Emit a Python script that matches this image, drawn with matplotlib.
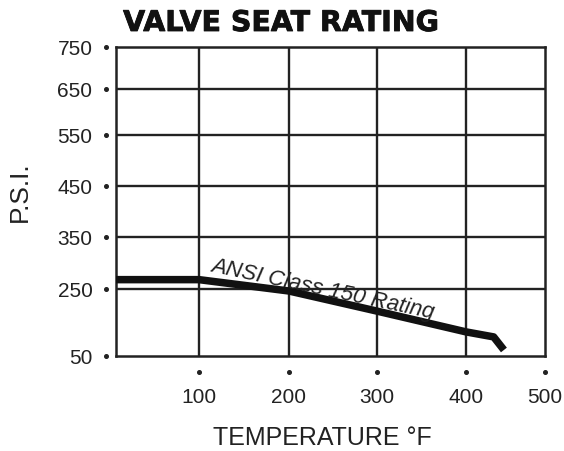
import numpy as np
import matplotlib
matplotlib.use("Agg")
import matplotlib.pyplot as plt
import matplotlib.patheffects as pe

plt.rcParams["font.family"] = ["Liberation Sans", "DejaVu Sans"]

# chart values
temp_f = [0, 100, 200, 300, 400, 435, 448]
rating_psi = [268, 268, 244, 184, 122, 107, 68]

x_ticks = [100, 200, 300, 400, 500]
y_ticks = [50, 250, 350, 450, 550, 650, 750]

# the printed axes are not evenly spaced, so map values through anchor points
x_anchor_val = [0, 100, 200, 300, 400, 500]
x_anchor_pos = [0, 83, 173, 261, 350, 429]
y_anchor_val = [50, 250, 350, 450, 550, 650, 750]
y_anchor_pos = [0, 67, 119, 170, 221, 267, 309]


def fwd_x(v):
    return np.interp(v, x_anchor_val, x_anchor_pos)

def inv_x(p):
    return np.interp(p, x_anchor_pos, x_anchor_val)

def fwd_y(v):
    return np.interp(v, y_anchor_val, y_anchor_pos)

def inv_y(p):
    return np.interp(p, y_anchor_pos, y_anchor_val)


W, H = 564, 452
fig = plt.figure(figsize=(W / 100, H / 100), dpi=100)
ax = fig.add_axes([116 / W, 1 - 357 / H, (545 - 116) / W, (357 - 48) / H])

ax.set_xscale("function", functions=(fwd_x, inv_x))
ax.set_yscale("function", functions=(fwd_y, inv_y))
ax.set_xlim(0, 500)
ax.set_ylim(50, 750)

# grid
for t in x_ticks[:-1]:
    ax.axvline(t, color="#222222", lw=1.7, zorder=1)
for p in y_ticks[1:-1]:
    ax.axhline(p, color="#222222", lw=1.7, zorder=1)
for s in ax.spines.values():
    s.set_linewidth(1.8)
    s.set_color("#222222")

# rating curve
ax.plot(temp_f, rating_psi, color="#111111", lw=5.4, solid_capstyle="butt",
        solid_joinstyle="round", zorder=3)
ax.text(112, 286, "ANSI Class 150 Rating", fontsize=16, style="italic",
        rotation=-12, rotation_mode="anchor", ha="left", va="baseline",
        color="#222222", zorder=4)

# ticks: labels plus small dots
ax.set_xticks(x_ticks)
ax.set_xticklabels([str(t) for t in x_ticks])
ax.set_yticks(y_ticks)
ax.set_yticklabels([str(p) for p in y_ticks])
ax.tick_params(axis="x", length=0, pad=22, labelsize=15, labelcolor="#222222")
ax.tick_params(axis="y", length=0, pad=17, labelsize=15, labelcolor="#222222")
ax.plot(x_ticks, [-0.052] * len(x_ticks), "o", ms=2.6, color="#222222",
        transform=ax.get_xaxis_transform(), clip_on=False)
ax.plot([-0.024] * len(y_ticks), y_ticks, "o", ms=2.6, color="#222222",
        transform=ax.get_yaxis_transform(), clip_on=False)

fig.text(281 / W, 1 - 24 / H, "VALVE SEAT RATING", fontsize=20.5,
         fontweight="bold", family="DejaVu Sans", ha="center", va="center",
         color="#111111",
         path_effects=[pe.withStroke(linewidth=0.6, foreground="#111111")])
fig.text(20 / W, 1 - 192 / H, "P.S.I.", fontsize=19, rotation=90,
         ha="center", va="center", color="#222222")
fig.text(322 / W, 1 - 438 / H, "TEMPERATURE \u00b0F", fontsize=18,
         ha="center", va="center", color="#222222")

fig.savefig("out.png", dpi=100)
